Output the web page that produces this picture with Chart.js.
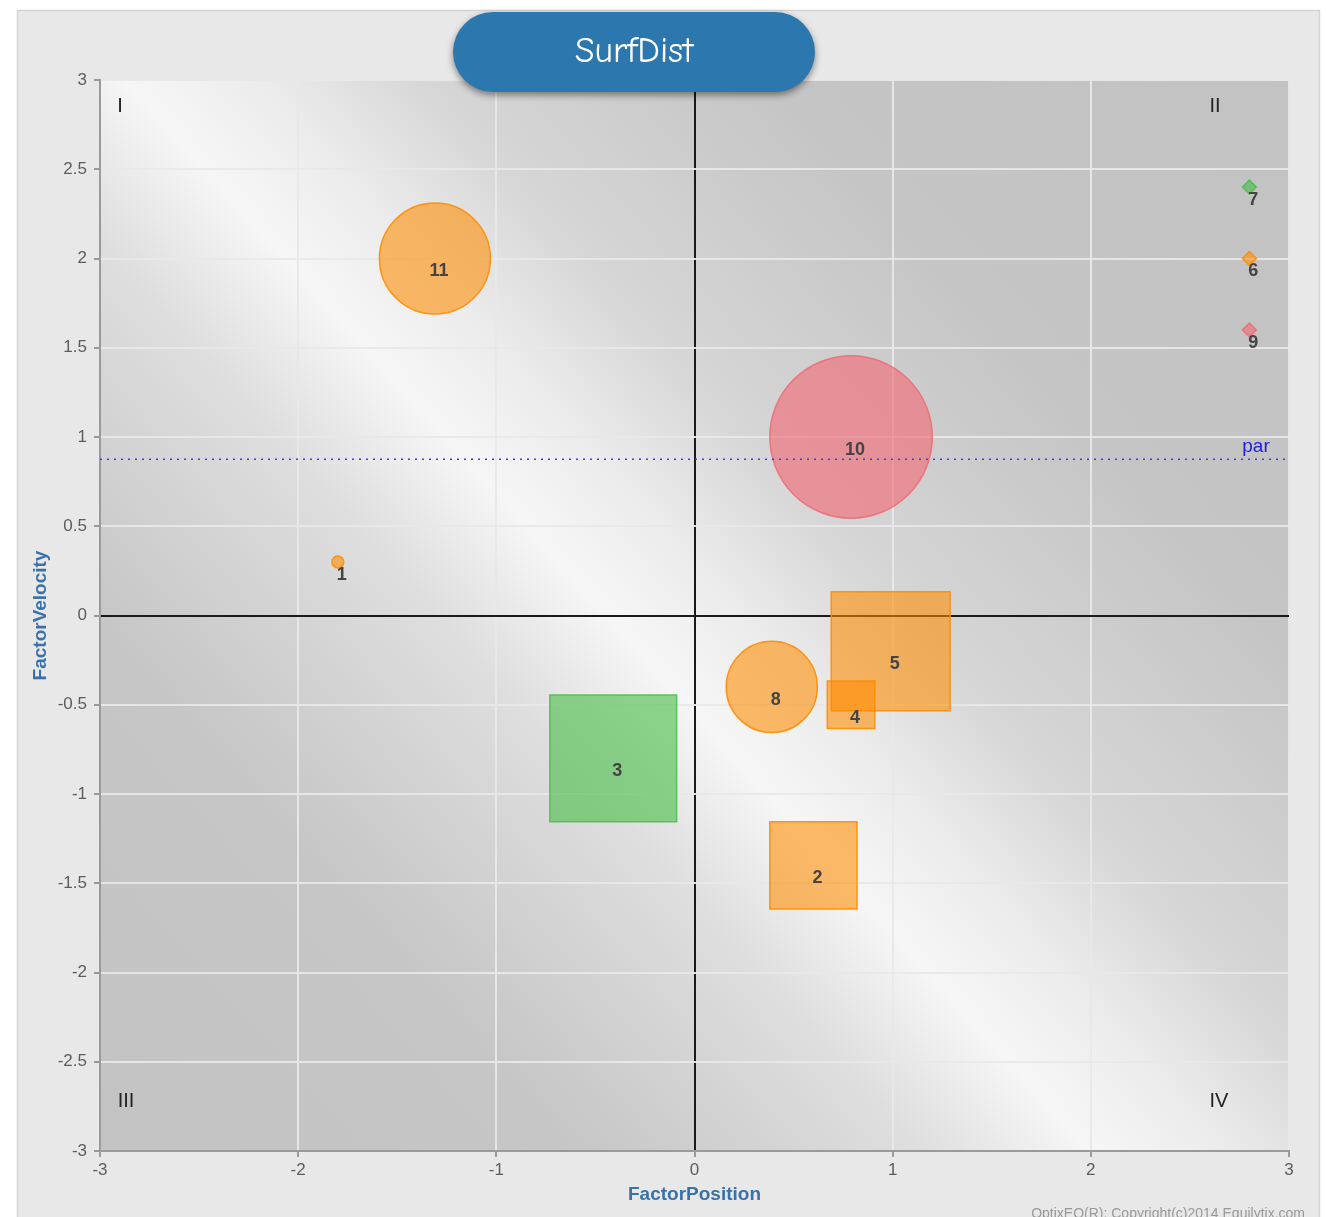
<!DOCTYPE html>
<html>
<head>
<meta charset="utf-8">
<script src="https://cdn.jsdelivr.net/npm/chart.js@4.4.0/dist/chart.umd.min.js"></script>
<style>
  html, body { margin: 0; padding: 0; background: #fff; }
  #wrap { width: 1326px; height: 1217px; }
</style>
</head>
<body>
<div id="wrap"><canvas id="surfChart" width="1326" height="1217"></canvas></div>
<script>
// --- DADOS ---
const ids       = ['1', '2', '3', '4', '5', '6', '7', '8', '9', '10', '11'];
const posX      = [-1.80, 0.60, -0.41, 0.79, 0.99, 2.80, 2.80, 0.39, 2.80, 0.79, -1.31];
const velY      = [0.30, -1.40, -0.80, -0.50, -0.20, 2.00, 2.40, -0.40, 1.60, 1.00, 2.00];
const extent    = [0.03, 0.22, 0.32, 0.12, 0.30, 0.035, 0.035, 0.23, 0.035, 0.41, 0.28]; // meia-largura em unidades do eixo X
const status    = ['amber', 'amber', 'green', 'amber', 'amber', 'amber', 'green', 'amber', 'red', 'red', 'amber'];
const kind      = ['bubble', 'box', 'box', 'box', 'box', 'marker', 'marker', 'bubble', 'marker', 'bubble', 'bubble'];
const parLevel  = 0.875;
const xTicks    = [-3, -2, -1, 0, 1, 2, 3];
const yTicks    = [-3, -2.5, -2, -1.5, -1, -0.5, 0, 0.5, 1, 1.5, 2, 2.5, 3];
const quadrants = [['I', 'II'], ['III', 'IV']];

// --- ESTILOS ---
const fills   = { amber: 'rgba(255,140,0,0.58)', green: 'rgba(70,190,70,0.6)', red: 'rgba(240,105,115,0.62)' };
const borders = { amber: 'rgba(255,140,0,0.9)', green: 'rgba(70,190,70,0.85)', red: 'rgba(240,105,115,0.85)' };
const shapes  = { bubble: 'circle', box: 'rect', marker: 'rectRot' };
const axisBlue = '#3a72a8';
const tickGray = '#5c5c5c';

// raio em pixels a partir da escala X (para quadrados o raio é a meia-diagonal)
function buildPoints(xs) {
  return ids.map((id, i) => {
    let r = 0;
    if (xs) {
      const half = Math.abs(xs.getPixelForValue(posX[i] + extent[i]) - xs.getPixelForValue(posX[i]));
      r = kind[i] === 'box' ? half / Math.SQRT1_2 : half;
    }
    return { x: posX[i], y: velY[i], r: r };
  });
}

const backdropPlugin = {
  id: 'backdrop',
  beforeDraw(chart) {
    const { ctx, chartArea: a } = chart;
    ctx.save();
    ctx.fillStyle = '#ffffff';
    ctx.fillRect(0, 0, chart.width, chart.height);
    ctx.fillStyle = '#e8e8e8';
    ctx.fillRect(17, 10, 1303, 1210);
    ctx.strokeStyle = '#d4d4d4';
    ctx.lineWidth = 1.5;
    ctx.strokeRect(17.5, 10.5, 1302, 1210);
    // fundo metálico
    const g = ctx.createLinearGradient(a.left, a.bottom, a.right, a.top);
    g.addColorStop(0, '#c3c3c3');
    g.addColorStop(0.22, '#c6c6c6');
    g.addColorStop(0.38, '#dedede');
    g.addColorStop(0.46, '#f6f6f6');
    g.addColorStop(0.52, '#ececec');
    g.addColorStop(0.6, '#d6d6d6');
    g.addColorStop(0.76, '#c5c5c5');
    g.addColorStop(1, '#c2c2c2');
    ctx.fillStyle = g;
    ctx.fillRect(a.left, a.top, a.right - a.left, a.bottom - a.top);
    ctx.restore();
  },
  afterDatasetsDraw(chart) {
    const { ctx, chartArea: a, scales } = chart;
    ctx.save();
    // linha par
    const py = scales.y.getPixelForValue(parLevel);
    ctx.strokeStyle = '#3b3bf0';
    ctx.lineWidth = 1.5;
    ctx.setLineDash([2, 5]);
    ctx.beginPath();
    ctx.moveTo(a.left, py);
    ctx.lineTo(a.right - 4, py);
    ctx.stroke();
    ctx.setLineDash([]);
    ctx.fillStyle = '#2020e0';
    ctx.font = '19px "Liberation Sans", Arial, sans-serif';
    ctx.textAlign = 'center';
    ctx.textBaseline = 'middle';
    ctx.fillText('par', 1256, py - 13);

    // rótulos dos pontos
    ctx.font = 'bold 18px "Liberation Sans", Arial, sans-serif';
    ctx.fillStyle = '#444';
    ids.forEach((id, i) => {
      const px = scales.x.getPixelForValue(posX[i]);
      const pyy = scales.y.getPixelForValue(velY[i]);
      ctx.fillText(id, px + 4, pyy + 13);
    });

    // quadrantes
    ctx.font = '20px "Liberation Sans", Arial, sans-serif';
    ctx.fillStyle = '#222';
    ctx.fillText(quadrants[0][0], a.left + 20, a.top + 26);
    ctx.fillText(quadrants[0][1], a.right - 74, a.top + 26);
    ctx.fillText(quadrants[1][0], a.left + 26, a.bottom - 50);
    ctx.fillText(quadrants[1][1], a.right - 70, a.bottom - 50);
    ctx.restore();
  },
  afterDraw(chart) {
    const { ctx } = chart;
    ctx.save();
    // título em pílula
    const x0 = 453, y0 = 12, w = 362, h = 80, r = 40;
    ctx.shadowColor = 'rgba(0,0,0,0.45)';
    ctx.shadowBlur = 7;
    ctx.shadowOffsetY = 3;
    ctx.fillStyle = '#2c78ae';
    ctx.beginPath();
    ctx.moveTo(x0 + r, y0);
    ctx.lineTo(x0 + w - r, y0);
    ctx.arc(x0 + w - r, y0 + r, r, -Math.PI / 2, Math.PI / 2);
    ctx.lineTo(x0 + r, y0 + h);
    ctx.arc(x0 + r, y0 + r, r, Math.PI / 2, Math.PI * 1.5);
    ctx.closePath();
    ctx.fill();
    ctx.shadowColor = 'transparent';
    ctx.fillStyle = '#ffffff';
    ctx.font = '36px "Comic Sans MS", "Comic Neue", "DejaVu Sans", sans-serif';
    ctx.textAlign = 'center';
    ctx.textBaseline = 'middle';
    ctx.fillText('SurfDist', x0 + w / 2, y0 + h / 2);
    // copyright
    ctx.font = '14px "Liberation Sans", Arial, sans-serif';
    ctx.fillStyle = '#999';
    ctx.textAlign = 'right';
    ctx.textBaseline = 'top';
    ctx.fillText('OptixEQ(R): Copyright(c)2014 Equilytix.com', 1305, 1207);
    ctx.restore();
  }
};

const gridColor = (c) => (c.tick && c.tick.value === 0 ? '#1a1a1a' : 'rgba(232,232,232,0.95)');
const tickFont = { size: 17, family: '"Liberation Sans", Arial' };

const chart = new Chart(document.getElementById('surfChart').getContext('2d'), {
  type: 'bubble',
  data: {
    datasets: [{
      label: 'SurfDist',
      data: buildPoints(null),
      hoverRadius: 0,
      pointStyle: (c) => shapes[kind[c.dataIndex]],
      backgroundColor: (c) => fills[status[c.dataIndex]],
      borderColor: (c) => borders[status[c.dataIndex]],
      borderWidth: 1.5
    }]
  },
  options: {
    responsive: false,
    animation: false,
    events: [],
    clip: false,
    layout: { autoPadding: false, padding: { left: 0, top: 80, right: 37, bottom: 0 } },
    plugins: { legend: { display: false }, tooltip: { enabled: false } },
    scales: {
      x: {
        type: 'linear', min: -3, max: 3,
        afterFit: (s) => { s.height = 66; },
        afterBuildTicks: (s) => { s.ticks = xTicks.map(v => ({ value: v })); },
        ticks: { color: tickGray, font: tickFont, padding: 3, callback: (v) => String(v) },
        grid: { color: gridColor, lineWidth: 2, tickLength: 6, tickColor: '#999' },
        border: { color: '#9a9a9a', width: 2 },
        title: { display: true, text: 'FactorPosition', color: axisBlue, font: { size: 19, weight: 'bold', family: '"Liberation Sans", Arial' }, padding: { bottom: 11 } }
      },
      y: {
        type: 'linear', min: -3, max: 3,
        afterFit: (s) => { s.width = 100; },
        afterBuildTicks: (s) => { s.ticks = yTicks.map(v => ({ value: v })); },
        ticks: { color: tickGray, font: tickFont, padding: 7, callback: (v) => String(v) },
        grid: { color: gridColor, lineWidth: 2, tickLength: 6, tickColor: '#999' },
        border: { color: '#9a9a9a', width: 2 },
        title: { display: true, text: 'FactorVelocity', color: axisBlue, font: { size: 19, weight: 'bold', family: '"Liberation Sans", Arial' }, padding: { top: 29 } }
      }
    }
  },
  plugins: [backdropPlugin]
});

// depois do layout, os raios saem da escala X
chart.data.datasets[0].data = buildPoints(chart.scales.x);
chart.update('none');
</script>
</body>
</html>
